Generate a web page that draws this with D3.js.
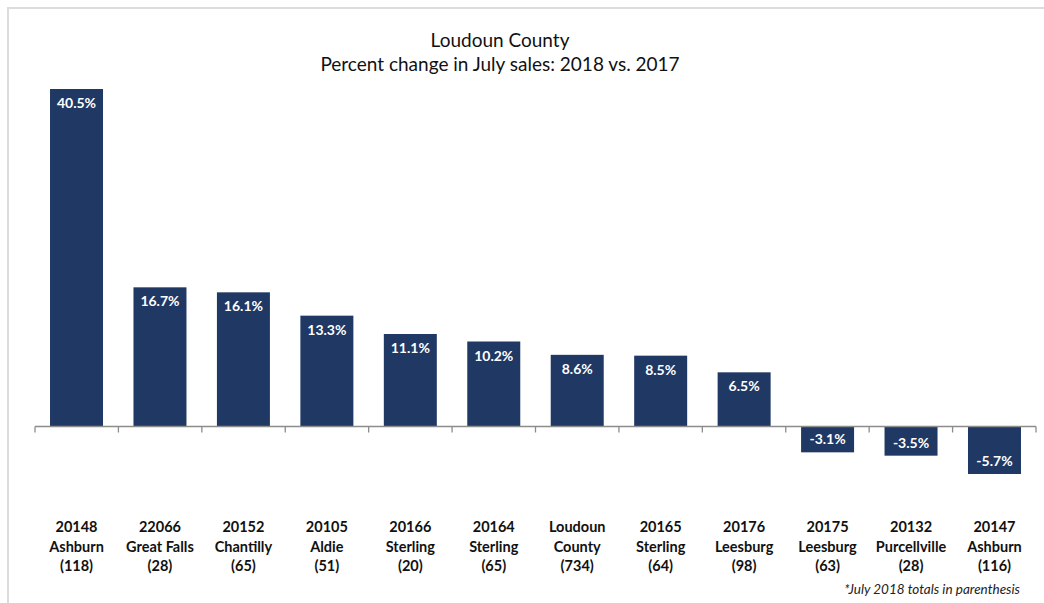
<!DOCTYPE html>
<html>
<head>
<meta charset="utf-8">
<script src="https://cdn.jsdelivr.net/npm/d3@7"></script>
<style>
  html, body { margin: 0; padding: 0; background: #fff; }
  svg { display: block; font-family: Lato, "Open Sans", sans-serif; }
</style>
</head>
<body>
<svg id="chart" width="1044" height="603"></svg>
<script>
// ZIP code areas, their town and July 2018 sales totals
const zips = ["20148", "22066", "20152", "20105", "20166", "20164", "Loudoun", "20165", "20176", "20175", "20132", "20147"];
const towns = ["Ashburn", "Great Falls", "Chantilly", "Aldie", "Sterling", "Sterling", "County", "Sterling", "Leesburg", "Leesburg", "Purcellville", "Ashburn"];
const totals = ["(118)", "(28)", "(65)", "(51)", "(20)", "(65)", "(734)", "(64)", "(98)", "(63)", "(28)", "(116)"];
// Percent change in July sales, 2018 vs. 2017
const pctChange = [40.5, 16.7, 16.1, 13.3, 11.1, 10.2, 8.6, 8.5, 6.5, -3.1, -3.5, -5.7];

const data = zips.map((z, i) => ({ id: i, zip: z, town: towns[i], total: totals[i], value: pctChange[i] }));

const svg = d3.select("#chart");
const W = 1044, H = 603;

// light frame along top and left edges
svg.append("path")
  .attr("d", `M8,${H} L8,8 L${W},8`)
  .attr("fill", "none")
  .attr("stroke", "#dcdcdc")
  .attr("stroke-width", 2);

const x = d3.scaleBand()
  .domain(data.map(d => d.id))
  .range([35, 1036])
  .paddingInner(0.365)
  .paddingOuter(0.18);

const y = d3.scaleLinear()
  .domain([-5.7, 40.5])
  .range([474, 89]);

// title
const title = svg.append("text")
  .attr("x", 500)
  .attr("text-anchor", "middle")
  .attr("fill", "#111")
  .style("font-size", "19px");
title.append("tspan").attr("x", 500).attr("y", 47).text("Loudoun County");
title.append("tspan").attr("x", 500).attr("y", 71).text("Percent change in July sales: 2018 vs. 2017");

// bars
svg.append("g").selectAll("rect")
  .data(data)
  .join("rect")
  .attr("x", d => x(d.id))
  .attr("width", x.bandwidth())
  .attr("y", d => y(Math.max(0, d.value)))
  .attr("height", d => Math.abs(y(d.value) - y(0)))
  .attr("fill", "#1f3864");

// value labels inside the bars
svg.append("g").selectAll("text")
  .data(data)
  .join("text")
  .attr("x", d => x(d.id) + x.bandwidth() / 2)
  .attr("y", d => d.value >= 0 ? y(d.value) + 19 : y(d.value) - 8)
  .attr("text-anchor", "middle")
  .attr("fill", "#fff")
  .style("font-size", "14px")
  .style("font-weight", "bold")
  .text(d => d.value.toFixed(1) + "%");

// zero baseline with ticks between categories
const axis = svg.append("g").attr("transform", `translate(0,${y(0)})`);
axis.append("line")
  .attr("x1", 35).attr("x2", 1036)
  .attr("stroke", "#8c8c8c").attr("stroke-width", 1.3);
const edges = d3.range(data.length + 1).map(i => 35 + i * (1001 / data.length));
axis.selectAll("line.tick")
  .data(edges)
  .join("line")
  .attr("class", "tick")
  .attr("x1", d => d).attr("x2", d => d)
  .attr("y1", 0).attr("y2", 6)
  .attr("stroke", "#8c8c8c").attr("stroke-width", 1.3);

// category labels below the chart
const cat = svg.append("g").selectAll("text")
  .data(data)
  .join("text")
  .attr("text-anchor", "middle")
  .attr("fill", "#111")
  .style("font-size", "14.5px")
  .style("font-weight", "bold");
[["zip", 532], ["town", 552], ["total", 571]].forEach(([k, yy]) => {
  cat.append("tspan")
    .attr("x", d => x(d.id) + x.bandwidth() / 2)
    .attr("y", yy)
    .text(d => d[k]);
});

// footnote
svg.append("text")
  .attr("x", 1020)
  .attr("y", 594)
  .attr("text-anchor", "end")
  .attr("fill", "#222")
  .style("font-size", "13.5px")
  .style("font-style", "italic")
  .text("*July 2018 totals in parenthesis");
</script>
</body>
</html>
